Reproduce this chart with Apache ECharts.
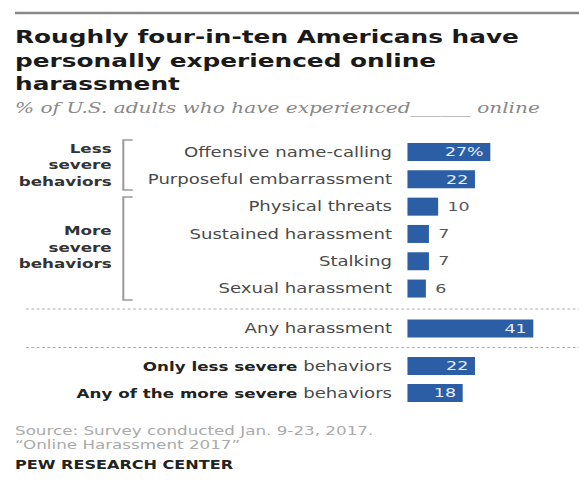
<!DOCTYPE html>
<html>
<head>
<meta charset="utf-8">
<script src="https://cdn.jsdelivr.net/npm/echarts@6/dist/echarts.min.js"></script>
<style>
  html, body { margin: 0; padding: 0; background: #fff; overflow: hidden; }
  /* The chart is laid out on a narrower canvas and widened to give the wide Pew lettering. */
  #chart { width: 432px; height: 487px; transform: scaleX(1.3403); transform-origin: 0 0; }
</style>
</head>
<body>
<div id="chart"></div>
<script>
// Individual behaviors
const behaviorLabels = ['Offensive name-calling', 'Purposeful embarrassment', 'Physical threats',
                        'Sustained harassment', 'Stalking', 'Sexual harassment'];
const behaviorValues = [27, 22, 10, 7, 7, 6];

// Overall
const anyLabels = ['Any harassment'];
const anyValues = [41];

// By severity (bold lead-in + plain tail)
const severityLabels = ['Only less severe behaviors', 'Any of the more severe behaviors'];
const severityBold = ['Only less severe', 'Any of the more severe'];
const severityValues = [22, 18];

const titleText = 'Roughly four-in-ten Americans have\npersonally experienced online\nharassment';
const subtitleText = '% of U.S. adults who have experienced______ online';
const groupLabels = ['Less\nsevere\nbehaviors', 'More\nsevere\nbehaviors'];
const sourceText = 'Source: Survey conducted Jan. 9-23, 2017.\n\u201COnline Harassment 2017\u201D';
const creditText = 'PEW RESEARCH CENTER';

const FONT = 'DejaVu Sans';
const BAR = '#2c5ea5';
const gridLeft = 304, gridWidth = 114.5, xMax = 50;

function barData(values, pctFirst) {
  return values.map((v, i) => {
    const inside = v >= 15;
    return {
      value: v,
      label: {
        show: true,
        position: inside ? 'insideRight' : 'right',
        distance: inside ? 5 : 7,
        color: inside ? '#e8eef8' : '#555',
        fontFamily: FONT,
        fontSize: 13,
        formatter: (pctFirst && i === 0) ? v + '%' : String(v)
      }
    };
  });
}

const grids = [
  { left: gridLeft, width: gridWidth, top: 138.4, height: 163.8 },
  { left: gridLeft, width: gridWidth, top: 315, height: 27 },
  { left: gridLeft, width: gridWidth, top: 352.5, height: 54 }
];

const catLabelBase = { color: '#4a4a4a', fontFamily: FONT, fontSize: 13.5, margin: 11.5 };

const option = {
  animation: false,
  grid: grids,
  xAxis: grids.map((g, i) => ({
    type: 'value', gridIndex: i, min: 0, max: xMax, show: false
  })),
  yAxis: [
    { type: 'category', gridIndex: 0, inverse: true, data: behaviorLabels,
      axisLine: { show: false }, axisTick: { show: false }, axisLabel: catLabelBase },
    { type: 'category', gridIndex: 1, inverse: true, data: anyLabels,
      axisLine: { show: false }, axisTick: { show: false }, axisLabel: catLabelBase },
    { type: 'category', gridIndex: 2, inverse: true, data: severityLabels,
      axisLine: { show: false }, axisTick: { show: false },
      axisLabel: Object.assign({}, catLabelBase, {
        formatter: (val, idx) => '{b|' + severityBold[idx] + '}{n|' + val.slice(severityBold[idx].length) + '}',
        rich: {
          b: { fontFamily: FONT, fontWeight: 'bold', fontSize: 12.5, color: '#222' },
          n: { fontFamily: FONT, fontSize: 13.5, color: '#4a4a4a' }
        }
      }) }
  ],
  series: [
    { type: 'bar', xAxisIndex: 0, yAxisIndex: 0, barWidth: 18, itemStyle: { color: BAR },
      data: barData(behaviorValues, true) },
    { type: 'bar', xAxisIndex: 1, yAxisIndex: 1, barWidth: 18, itemStyle: { color: BAR },
      data: barData(anyValues, false) },
    { type: 'bar', xAxisIndex: 2, yAxisIndex: 2, barWidth: 18, itemStyle: { color: BAR },
      data: barData(severityValues, false) }
  ],
  graphic: [
    // top rule
    { type: 'line', shape: { x1: 11.2, y1: 13, x2: 432, y2: 13 },
      style: { stroke: '#888', lineWidth: 2.5 } },
    // title
    { type: 'text', left: 11.2, top: 25,
      style: { text: titleText, font: 'bold 18.5px "DejaVu Sans"', fill: '#1a1a1a', lineHeight: 23.5 } },
    // subtitle
    { type: 'text', left: 11.2, top: 100,
      style: { text: subtitleText, font: 'italic 15px "DejaVu Serif"', fill: '#888' } },
    // group brackets
    { type: 'polyline', shape: { points: [[99, 140], [92, 140], [92, 190], [99, 190]] },
      style: { stroke: '#999', lineWidth: 1.5, fill: null } },
    { type: 'polyline', shape: { points: [[99, 197], [92, 197], [92, 300], [99, 300]] },
      style: { stroke: '#999', lineWidth: 1.5, fill: null } },
    // group labels
    { type: 'text', x: 83.3, y: 164.5,
      style: { text: groupLabels[0], font: 'bold 12.5px "DejaVu Sans"', fill: '#333',
               textAlign: 'right', textVerticalAlign: 'middle', lineHeight: 16.5 } },
    { type: 'text', x: 83.3, y: 247,
      style: { text: groupLabels[1], font: 'bold 12.5px "DejaVu Sans"', fill: '#333',
               textAlign: 'right', textVerticalAlign: 'middle', lineHeight: 16.5 } },
    // dotted separators
    { type: 'line', shape: { x1: 19.4, y1: 309, x2: 432, y2: 309 },
      style: { stroke: '#aaa', lineWidth: 1, lineDash: [2, 2] } },
    { type: 'line', shape: { x1: 19.4, y1: 347.5, x2: 432, y2: 347.5 },
      style: { stroke: '#aaa', lineWidth: 1, lineDash: [2, 2] } },
    // source and credit
    { type: 'text', left: 11.2, top: 423,
      style: { text: sourceText, font: '12.5px "DejaVu Sans"', fill: '#aaa', lineHeight: 14.5 } },
    { type: 'text', left: 11.2, top: 459,
      style: { text: creditText, font: 'bold 12px "DejaVu Sans"', fill: '#222' } }
  ]
};

const chart = echarts.init(document.getElementById('chart'), null, { renderer: 'svg' });
chart.setOption(option);
</script>
</body>
</html>
